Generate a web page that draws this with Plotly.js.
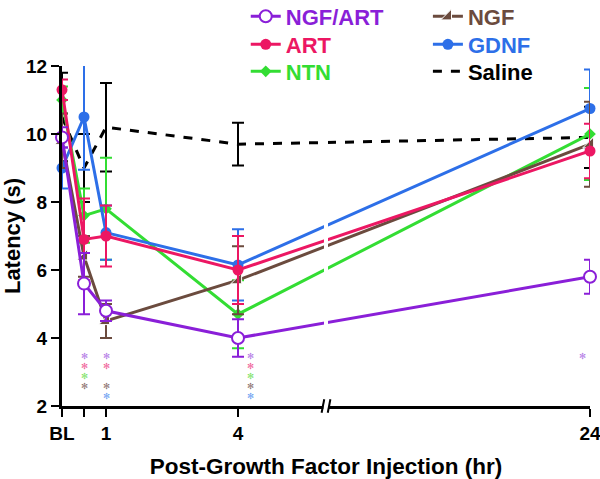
<!DOCTYPE html>
<html><head><meta charset="utf-8">
<script src="https://cdn.plot.ly/plotly-3.0.1.min.js"></script>
<style>body{margin:0;background:#fff}#chart{width:600px;height:479px}</style>
</head><body><div id="chart"></div>
<script>
// ---- data ----
const hours = [0, 0.5, 1, 4, 24];          // 0 = baseline (BL)
const tickHours = [0, 0.5, 1, 4, 24];
const tickLabels = ['BL', '', '1', '4', '24'];

const ngfArt    = [9.9, 5.6, 4.8, 4.0, 5.8];
const ngfArtErr = [0.3, 0.9, 0.3, 0.55, 0.5];
const art       = [11.3, 6.9, 7.0, 6.0, 9.5];
const artErr    = [0.3, 1.2, 0.9, 1.0, 0.8];
const ntn       = [11.0, 7.6, 7.8, 4.7, 10.0];
const ntnErr    = [0.4, 0.8, 1.5, 1.0, 1.35];
const ngf       = [9.8, 6.4, 4.5, 5.7, 9.7];
const ngfErr    = [0.8, 0.6, 0.5, 1.0, 1.25];
const gdnf      = [9.0, 10.5, 7.1, 6.15, 10.75];
const gdnfErr   = [0.6, 1.55, 0.8, 1.05, 1.15];
const saline    = [10.5, 9.0, 10.2, 9.7, 9.9];
const salineErr = [1.3, 1.0, 1.3, 0.63, 0.9];

// significance asterisks: time point -> groups marked
const sigHours  = [0.5, 1, 4, 24];
const sigGroups = [
  ['NGF/ART', 'ART', 'NTN', 'NGF'],
  ['NGF/ART', 'ART', 'NGF', 'GDNF'],
  ['NGF/ART', 'ART', 'NTN', 'NGF', 'GDNF'],
  ['NGF/ART']
];

// ---- styling / axis mapping ----
const BREAK_HOUR = 6;
function pos(h) { return h <= BREAK_HOUR ? h : BREAK_HOUR + (h - BREAK_HOUR) / 3; }
const X = hours.map(pos);

const FONT = 'Arial, "Liberation Sans", sans-serif';
const col = {
  'NGF/ART': '#8A1FD8', 'ART': '#EC1763', 'NTN': '#33DD33',
  'NGF': '#6B4B3E', 'GDNF': '#2D6FE8', 'Saline': '#000000'
};
const sigCol = {
  'NGF/ART': '#B47BE6', 'ART': '#F0639A', 'NTN': '#7FE36A',
  'NGF': '#8E7472', 'GDNF': '#6FA2F2'
};
const sigRow = ['NGF/ART', 'ART', 'NTN', 'NGF', 'GDNF'];
const sigShiftPx = [0, 0, 12, -8];

// legend placement: [legend id, column x (paper), row centre y (paper)]
const legendSlot = {
  'NGF/ART': ['legend',  0.348, 1.1456],
  'ART':     ['legend2', 0.348, 1.0632],
  'NTN':     ['legend3', 0.348, 0.9838],
  'NGF':     ['legend4', 0.693, 1.1456],
  'GDNF':    ['legend5', 0.693, 1.0632],
  'Saline':  ['legend6', 0.693, 0.9838]
};

function series(name, y, err, marker, dash) {
  const t = {
    type: 'scatter', mode: dash ? 'lines' : 'lines+markers', name: name,
    x: X, y: y, legend: legendSlot[name][0], cliponaxis: false,
    line: { color: col[name], width: 3, dash: dash || 'solid' },
    error_y: { type: 'data', array: err, visible: true, color: col[name], thickness: 2, width: 6 },
    hoverinfo: 'x+y'
  };
  if (marker) t.marker = marker;
  return t;
}

const traces = [
  series('Saline', saline, salineErr, null, 'dash'),
  series('NTN', ntn, ntnErr, { symbol: 'diamond', size: 9, color: col['NTN'] }),
  series('GDNF', gdnf, gdnfErr, { symbol: 'circle', size: 11, color: col['GDNF'] }),
  series('NGF', ngf, ngfErr, { symbol: 'triangle-se', size: 12, color: col['NGF'], line: { color: '#ffffff', width: 1 } }),
  series('ART', art, artErr, { symbol: 'circle', size: 11, color: col['ART'] }),
  series('NGF/ART', ngfArt, ngfArtErr, { symbol: 'circle', size: 12, color: '#ffffff', line: { color: col['NGF/ART'], width: 2 } })
];

// break gaps on the 4h -> 24h segments (position computed from the data)
const i4 = hours.indexOf(4), i24 = hours.indexOf(24);
const frac = (pos(BREAK_HOUR) - X[i4]) / (X[i24] - X[i4]);
const dataByName = { 'Saline': saline, 'NTN': ntn, 'GDNF': gdnf, 'NGF': ngf, 'ART': art, 'NGF/ART': ngfArt };
const brkY = Object.keys(dataByName).map(n => dataByName[n][i4] + frac * (dataByName[n][i24] - dataByName[n][i4]));
traces.push({
  type: 'scatter', mode: 'markers', showlegend: false, hoverinfo: 'skip',
  x: brkY.map(() => pos(BREAK_HOUR)), y: brkY,
  marker: { symbol: 'line-ns-open', size: 9, color: '#ffffff', line: { color: '#ffffff', width: 4 } }
});

// significance asterisks as text
const annotations = [];
sigHours.forEach((h, k) => {
  sigGroups[k].forEach(g => {
    annotations.push({
      x: pos(h), y: 3.5 - 0.3 * sigRow.indexOf(g), xref: 'x', yref: 'y',
      text: '✻', showarrow: false, xshift: sigShiftPx[k],
      height: 9, borderpad: 0, valign: 'middle',
      font: { family: 'DejaVu Sans', size: 8.5, color: sigCol[g] }
    });
  });
});

const bx = pos(BREAK_HOUR);
const shapes = [
  { type: 'rect', xref: 'x', yref: 'paper', x0: bx - 0.06, x1: bx + 0.06, y0: -0.012, y1: 0.012, fillcolor: '#fff', line: { width: 0 }, layer: 'above' },
  { type: 'line', xref: 'x', yref: 'paper', x0: bx - 0.1, x1: bx - 0.04, y0: -0.02, y1: 0.02, line: { color: '#000', width: 2 }, layer: 'above' },
  { type: 'line', xref: 'x', yref: 'paper', x0: bx + 0.04, x1: bx + 0.1, y0: -0.02, y1: 0.02, line: { color: '#000', width: 2 }, layer: 'above' }
];

const layout = {
  width: 600, height: 479,
  margin: { l: 62, r: 10, t: 66, b: 73, autoexpand: false },
  paper_bgcolor: '#fff', plot_bgcolor: '#fff',
  font: { family: FONT, color: '#000' },
  showlegend: true,
  xaxis: {
    range: [0, 12], showgrid: false, zeroline: false,
    tickvals: tickHours.map(pos), ticktext: tickLabels, ticklabeloverflow: 'allow',
    ticks: 'outside', ticklen: 8, tickwidth: 2.5, tickcolor: '#000',
    showline: true, linewidth: 3, linecolor: '#000',
    tickfont: { family: FONT, size: 19, weight: 'bold', color: '#000' },
    title: { text: 'Post-Growth Factor Injection (hr)', font: { family: FONT, size: 22.5, weight: 'bold' }, standoff: 16 }
  },
  yaxis: {
    range: [2, 12], showgrid: false, zeroline: false,
    tickvals: [2, 4, 6, 8, 10, 12],
    ticks: 'outside', ticklen: 8, tickwidth: 2.5, tickcolor: '#000',
    showline: true, linewidth: 3, linecolor: '#000',
    tickfont: { family: FONT, size: 19, weight: 'bold', color: '#000' },
    title: { text: 'Latency (s)', font: { family: FONT, size: 22, weight: 'bold' }, standoff: 6 }
  },
  annotations: annotations,
  shapes: shapes
};
Object.keys(legendSlot).forEach(n => {
  const s = legendSlot[n];
  layout[s[0]] = {
    orientation: 'v', yanchor: 'middle', xanchor: 'left', x: s[1], y: s[2],
    bgcolor: 'rgba(0,0,0,0)', itemwidth: 30,
    font: { family: FONT, size: 22, weight: 'bold', color: col[n] }
  };
});

Plotly.newPlot('chart', traces, layout, { staticPlot: true });
</script>
</body></html>
